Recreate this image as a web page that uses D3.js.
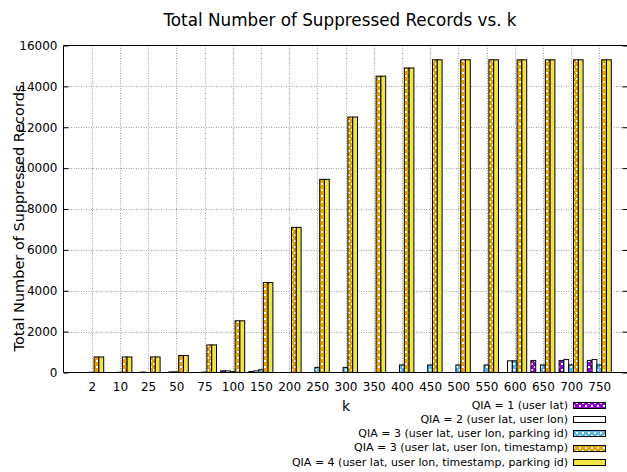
<!DOCTYPE html>
<html><head><meta charset="utf-8">
<script src="https://cdn.jsdelivr.net/npm/d3@7"></script>
<style>body{margin:0;background:#fff}svg{display:block}text{font-family:"DejaVu Sans",sans-serif;fill:#000}</style>
</head><body><svg id="c" width="627" height="472"></svg>
<script>
const categories = ["2","10","25","50","75","100","150","200","250","300","350","400","450","500","550","600","650","700","750"];
const seriesNames = [
  "QIA = 1 (user lat)",
  "QIA = 2 (user lat, user lon)",
  "QIA = 3 (user lat, user lon, parking id)",
  "QIA = 3 (user lat, user lon, timestamp)",
  "QIA = 4 (user lat, user lon, timestamp, parking id)"
];
const qia1 = [0,0,0,0,0,80,50,0,0,0,0,0,0,0,0,0,590,590,590];
const qia2 = [0,0,20,30,0,80,80,0,0,0,0,0,0,0,0,570,0,640,640];
const qia3p = [10,10,0,30,20,40,130,0,250,250,0,370,370,370,370,570,370,370,370];
const qia3t = [760,760,760,830,1350,2530,4400,7100,9450,12500,14500,14900,15300,15300,15300,15300,15300,15300,15300];
const qia4 = [760,760,760,830,1350,2530,4400,7100,9450,12500,14500,14900,15300,15300,15300,15300,15300,15300,15300];
const yTicks = [0,2000,4000,6000,8000,10000,12000,14000,16000];
const seriesValues = [qia1, qia2, qia3p, qia3t, qia4];

const svg = d3.select("#c");
const L = 63.5, R = 627.5, T = 45.5, B = 372.5;
const step = (R - L) / 20;
const x = d3.scalePoint().domain(categories).range([L + step, R - step]);
const xb = d3.scaleBand().domain(d3.range(5)).range([-2.5*4.8, 2.5*4.8]);
const y = d3.scaleLinear().domain([0,16000]).range([B, T]);

const fills = [
  {id:"p1", color:"#9400d3", pat:true},
  {id:"p2", color:"#ffffff", pat:false},
  {id:"p3", color:"#56b4e9", pat:true},
  {id:"p4", color:"#e69f00", pat:true},
  {id:"p5", color:"#f0e442", pat:false}
];
const defs = svg.append("defs");
fills.forEach(f => {
  if (!f.pat) return;
  const p = defs.append("pattern").attr("id", f.id).attr("patternUnits","userSpaceOnUse")
    .attr("width",6).attr("height",6);
  p.append("rect").attr("width",6).attr("height",6).attr("fill",f.color);
  p.append("rect").attr("x",0).attr("y",0).attr("width",2).attr("height",2).attr("fill","#fff");
  p.append("rect").attr("x",3).attr("y",3).attr("width",2).attr("height",2).attr("fill","#fff");
});
const fillOf = i => fills[i].pat ? `url(#${fills[i].id})` : fills[i].color;

// grid
const grid = svg.append("g").attr("stroke","#a0a0a0").attr("stroke-width",1).attr("stroke-dasharray","1,1.5");
yTicks.slice(1, -1).forEach(v => {
  grid.append("line").attr("x1",L).attr("x2",R).attr("y1",Math.round(y(v))+0.5).attr("y2",Math.round(y(v))+0.5);
});
categories.forEach(c => {
  const xx = Math.round(x(c)) + 0.5;
  grid.append("line").attr("x1",xx).attr("x2",xx).attr("y1",T).attr("y2",B);
});

// bars
const bars = svg.append("g");
seriesValues.forEach((vals, si) => {
  bars.selectAll(null).data(vals.map((v,i)=>({v, c:categories[i]})).filter(d=>d.v>0))
    .enter().append("rect")
    .attr("x", d => x(d.c) + xb(si))
    .attr("width", xb.bandwidth())
    .attr("y", d => y(d.v))
    .attr("height", d => B - y(d.v))
    .attr("fill", fillOf(si))
    .attr("stroke", "#000").attr("stroke-width", 1);
});

// border (left, top, bottom)
svg.append("path").attr("d",`M${R},${T}H${L}V${B}H${R}`).attr("fill","none").attr("stroke","#000").attr("stroke-width",1);

// y ticks
const yAxisL = d3.axisLeft(y).tickValues(yTicks).tickSize(-5).tickPadding(6).tickFormat(d3.format("d"));
const gy = svg.append("g").attr("transform",`translate(${L},0)`).call(yAxisL);
gy.select(".domain").remove();
gy.selectAll("text").attr("font-size",12).attr("font-family","DejaVu Sans");
gy.selectAll("line").attr("stroke","#000");
const gyr = svg.append("g").attr("transform",`translate(${R},0)`).call(d3.axisRight(y).tickValues(yTicks).tickSize(-5).tickFormat(""));
gyr.select(".domain").remove();
gyr.selectAll("line").attr("stroke","#000");

// x labels
const gx = svg.append("g").attr("transform",`translate(0,${B})`).call(d3.axisBottom(x).tickSize(0).tickPadding(10));
gx.select(".domain").remove();
gx.selectAll("text").attr("font-size",12).attr("font-family","DejaVu Sans");

// titles
svg.append("text").attr("x",340).attr("y",26).attr("text-anchor","middle").attr("font-size",16.8)
  .text("Total Number of Suppressed Records vs. k");
svg.append("text").attr("transform","translate(24,218) rotate(-90)").attr("text-anchor","middle").attr("font-size",14.5)
  .text("Total Number of Suppressed Records");
svg.append("text").attr("x",346).attr("y",411).attr("text-anchor","middle").attr("font-size",14).text("k");

// legend
const lg = svg.append("g");
seriesNames.forEach((n, i) => {
  const yy = 405 + i*14.2;
  lg.append("text").attr("x",568).attr("y",yy).attr("dy","0.35em").attr("text-anchor","end").attr("font-size",11).text(n);
  lg.append("rect").attr("x",573.5).attr("y",Math.round(yy-3)+0.5).attr("width",32).attr("height",6)
    .attr("fill",fillOf(i)).attr("stroke","#000");
});
</script></body></html>
